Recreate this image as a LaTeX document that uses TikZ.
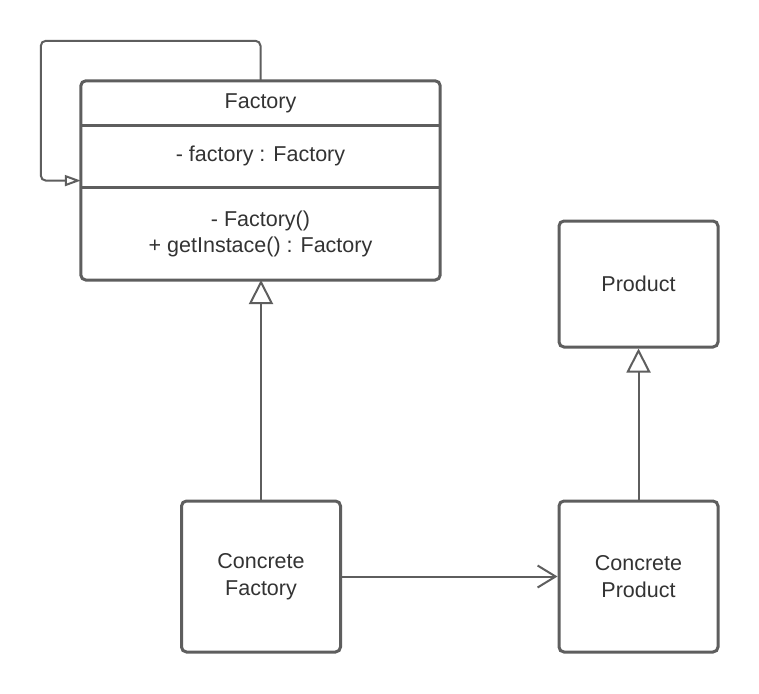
\documentclass[tikz,border=0pt]{standalone}
\usepackage{fontspec}
\setmainfont{Liberation Sans}
\usepackage{tikz}
\usetikzlibrary{arrows.meta,positioning,calc}
\definecolor{umlline}{HTML}{5E5E5E}
\definecolor{umltext}{HTML}{333333}
\tikzset{
  umlText/.style={font=\fontsize{21.5}{26.5}\selectfont, text=umltext, align=center},
  classBox/.style={draw=umlline, line width=3pt, rounded corners=5pt, umlText, minimum width=159pt, minimum height=151pt},
  classPart/.style={umlText, minimum width=359pt, inner sep=0pt},
  classLine/.style={draw=umlline, line width=3pt},
  inhArrow/.style={-{Triangle[open, length=24pt, width=24pt]}, line width=2pt, draw=umlline},
  assocArrow/.style={-{Straight Barb[length=18pt, width=22pt]}, line width=2pt, draw=umlline},
  selfArrow/.style={-{Triangle[open, length=16pt, width=11pt]}, line width=2pt, draw=umlline, rounded corners=5pt}
}

\begin{document}
\begin{tikzpicture}[x=1pt,y=-1pt]
  \useasboundingbox[fill=white] (0,0) rectangle (759,693);
  % Factory class, three compartments
  \node[classPart, minimum height=44pt] (facthead) at (260.5,103) {Factory};
  \node[classPart, minimum height=62pt, below=0pt of facthead] (factattr) {- factory : Factory};
  \node[classPart, minimum height=92pt, below=0pt of factattr] (factops) {- Factory()\\+ getInstace() : Factory};
  \draw[classLine, rounded corners=5pt] (facthead.north west) rectangle (factops.south east);
  \draw[classLine] (facthead.south west) -- (facthead.south east);
  \draw[classLine] (factattr.south west) -- (factattr.south east);
  % other classes
  \node[classBox, minimum height=126pt] (product) at (638.5,284) {Product};
  \node[classBox] (cfact) at (261,576.5) {Concrete\\Factory};
  \node[classBox] (cprod) at (638.5,576.5) {Concrete\\Product};
  % relations
  \coordinate (loopin) at ($(factattr.south west)+(0,-7)$);
  \draw[selfArrow] (facthead.north) -- ++(0,-40) -| ([xshift=-40pt]loopin) -- (loopin);
  \draw[inhArrow] (cfact.north) -- (cfact.north |- factops.south);
  \draw[inhArrow] (cprod.north) -- (product.south);
  \draw[assocArrow] (cfact.east) -- (cprod.west);
\end{tikzpicture}
\end{document}
